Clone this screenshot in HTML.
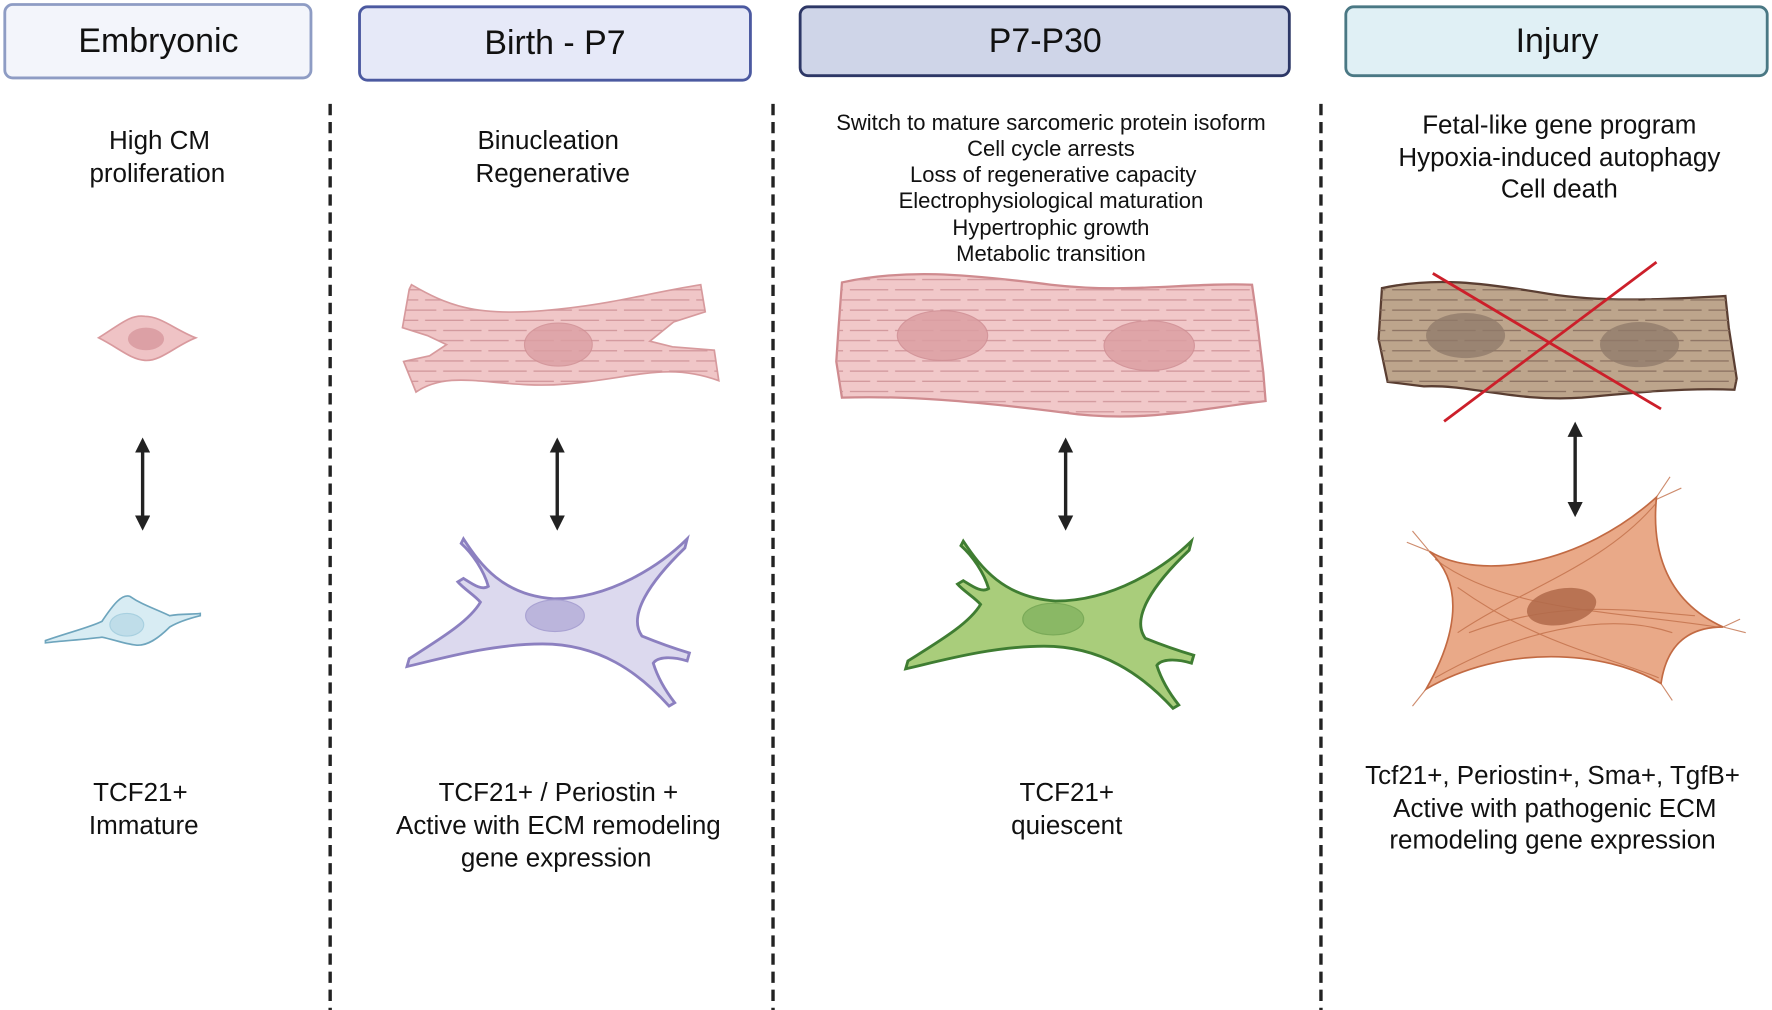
<!DOCTYPE html>
<html><head><meta charset="utf-8"><style>
html,body{margin:0;padding:0;background:#fff}
svg{display:block}
text{font-family:"Liberation Sans",sans-serif;fill:#111;text-anchor:middle}
</style></head><body>
<svg width="1772" height="1010" viewBox="0 0 1568 894" xmlns="http://www.w3.org/2000/svg">
<defs>
<path id="fib" d="M -80,-68 C -65,-45 -45,-18 0,-15 C 50,-15 95,-45 118,-68 L 116,-60 C 85,-30 65,0 78,18 C 95,25 110,30 120,33 L 118,40 C 105,36 92,36 88,42 C 92,55 100,68 107,77 L 102,80 C 75,50 40,25 -10,25 C -55,25 -100,38 -130,45 L -128,38 C -100,20 -75,5 -65,-12 C -70,-18 -80,-24 -85,-30 L -80,-33 C -72,-28 -64,-22 -58,-26 C -62,-40 -72,-55 -82,-64 Z"/>
<pattern id="stripes" width="40" height="18" patternUnits="userSpaceOnUse"><path d="M0,4.5 L40,4.5" stroke="#d0959a" stroke-width="1" stroke-dasharray="26 6"/><path d="M0,13.5 L40,13.5" stroke="#d0959a" stroke-width="1" stroke-dasharray="10 6 26 0"/></pattern>
<pattern id="stripesB" width="40" height="18" patternUnits="userSpaceOnUse"><path d="M0,4.5 L40,4.5" stroke="#8a7060" stroke-width="1" stroke-dasharray="26 6"/><path d="M0,13.5 L40,13.5" stroke="#8a7060" stroke-width="1" stroke-dasharray="10 6 26 0"/></pattern>
<marker id="ah" viewBox="0 0 10 10" refX="5" refY="5" markerWidth="4.5" markerHeight="4.5" orient="auto-start-reverse"><path d="M0,0 L10,5 L0,10 Z" fill="#222"/></marker>
</defs>

<rect x="4" y="4" width="271" height="65" rx="7" fill="#f3f5fb" stroke="#8e9cc4" stroke-width="2.5"/>
<text x="140" y="46" font-size="30">Embryonic</text>
<rect x="318" y="6" width="346" height="65" rx="7" fill="#e6e9f8" stroke="#4b59a0" stroke-width="2.5"/>
<text x="491" y="48" font-size="30">Birth - P7</text>
<rect x="708" y="6" width="433" height="61" rx="7" fill="#cfd5e8" stroke="#2d3766" stroke-width="2.5"/>
<text x="925" y="46" font-size="30">P7-P30</text>
<rect x="1191" y="6" width="373" height="61" rx="7" fill="#e0f0f5" stroke="#4a7884" stroke-width="2.5"/>
<text x="1378" y="46" font-size="30">Injury</text>

<g stroke="#222" stroke-width="3" stroke-dasharray="10 6">
<line x1="292" y1="92" x2="292" y2="894"/>
<line x1="684" y1="92" x2="684" y2="894"/>
<line x1="1169" y1="92" x2="1169" y2="894"/>
</g>

<text font-size="23"><tspan x="141" y="132">High CM</tspan><tspan x="139" y="161">proliferation</tspan></text>
<text font-size="23"><tspan x="485" y="132">Binucleation</tspan><tspan x="489" y="161">Regenerative</tspan></text>
<text font-size="19.5"><tspan x="930" y="115">Switch to mature sarcomeric protein isoform</tspan><tspan x="930" y="138">Cell cycle arrests</tspan><tspan x="932" y="161">Loss of regenerative capacity</tspan><tspan x="930" y="184">Electrophysiological maturation</tspan><tspan x="930" y="208">Hypertrophic growth</tspan><tspan x="930" y="231">Metabolic transition</tspan></text>
<text font-size="23"><tspan x="1380" y="118">Fetal-like gene program</tspan><tspan x="1380" y="147">Hypoxia-induced autophagy</tspan><tspan x="1380" y="175">Cell death</tspan></text>

<path d="M87,299 C105,288 115,278 128,280 C142,280 155,292 173,299 C155,306 142,320 128,319 C115,318 105,308 87,299 Z" fill="#efc3c5" stroke="#d99a9e" stroke-width="1.5"/>
<ellipse cx="129" cy="300" rx="16" ry="10" fill="#dca0a5"/>

<g>
<path d="M362,256 L364,252 C395,270 420,280 480,275 C540,270 570,260 620,252 L624,276 L596,285 L575,302 L595,307 L632,310 L636,337 C590,320 560,335 500,340 C440,345 400,325 368,347 L357,320 L380,315 L395,305 L378,297 L356,290 L362,256 Z" fill="#f0c6c7" stroke="#d79a9d" stroke-width="1.5"/>
<path d="M362,256 L364,252 C395,270 420,280 480,275 C540,270 570,260 620,252 L624,276 L596,285 L575,302 L595,307 L632,310 L636,337 C590,320 560,335 500,340 C440,345 400,325 368,347 L357,320 L380,315 L395,305 L378,297 L356,290 Z" fill="url(#stripes)"/>
<ellipse cx="494" cy="305" rx="30" ry="19" fill="#dc9fa3" opacity="0.8" stroke="#cf8e93"/>
</g>

<path d="M745,250 C800,238 850,242 930,252 C1000,260 1050,250 1108,252 L1112,280 L1118,330 L1120,355 C1060,362 1010,375 940,365 C860,355 800,350 745,352 L740,320 L742,290 Z" fill="#f1c8c9" stroke="#cf8b8f" stroke-width="2"/>
<path d="M745,250 C800,238 850,242 930,252 C1000,260 1050,250 1108,252 L1112,280 L1118,330 L1120,355 C1060,362 1010,375 940,365 C860,355 800,350 745,352 L740,320 L742,290 Z" fill="url(#stripes)"/>
<ellipse cx="834" cy="297" rx="40" ry="22" fill="#dc9fa3" opacity="0.85" stroke="#cf8e93"/>
<ellipse cx="1017" cy="306" rx="40" ry="22" fill="#dc9fa3" opacity="0.85" stroke="#cf8e93"/>

<path d="M1223,255 C1270,245 1310,250 1370,260 C1420,268 1470,265 1527,262 L1530,290 L1537,335 L1535,345 C1490,343 1440,348 1400,352 C1340,356 1300,340 1260,342 L1228,338 L1220,300 Z" fill="#bda58c" stroke="#5a3e32" stroke-width="2"/>
<path d="M1223,255 C1270,245 1310,250 1370,260 C1420,268 1470,265 1527,262 L1530,290 L1537,335 L1535,345 C1490,343 1440,348 1400,352 C1340,356 1300,340 1260,342 L1228,338 L1220,300 Z" fill="url(#stripesB)"/>
<ellipse cx="1297" cy="297" rx="35" ry="20" fill="#8f7a6a" opacity="0.75"/>
<ellipse cx="1451" cy="305" rx="35" ry="20" fill="#8f7a6a" opacity="0.75"/>
<line x1="1268" y1="242" x2="1470" y2="362" stroke="#cc1f2a" stroke-width="2.5"/>
<line x1="1466" y1="232" x2="1278" y2="373" stroke="#cc1f2a" stroke-width="2.5"/>

<g stroke="#222" stroke-width="3" marker-start="url(#ah)" marker-end="url(#ah)">
<line x1="126" y1="394" x2="126" y2="463"/>
<line x1="493" y1="394" x2="493" y2="463"/>
<line x1="943" y1="394" x2="943" y2="463"/>
<line x1="1394" y1="380" x2="1394" y2="451"/>
</g>

<path d="M40,567 C60,560 80,555 90,550 C100,535 108,525 115,528 C125,535 135,538 150,545 C160,543 170,544 177,543 L177,545 C165,548 155,552 150,555 C140,565 130,572 120,571 C110,570 100,566 90,564 C75,566 58,567 40,569 Z" fill="#d8ecf3" stroke="#6ea5bd" stroke-width="1.5"/>
<ellipse cx="112" cy="553" rx="15" ry="10" fill="#bfdde9" stroke="#a8d0e0"/>

<use href="#fib" transform="translate(490,545)" fill="#dcd9ee" stroke="#8c80c0" stroke-width="2.5"/>
<ellipse cx="491" cy="545" rx="26" ry="14" fill="#bbb5dc" stroke="#a9a2d2"/>

<use href="#fib" transform="translate(934,547) scale(1.02,1)" fill="#a9cd7b" stroke="#3f7d32" stroke-width="2.5"/>
<ellipse cx="932" cy="548" rx="27" ry="14" fill="#8ab865" stroke="#7aaa58"/>

<g>
<path d="M1265,488 C1310,515 1400,500 1466,440 C1462,480 1470,530 1525,555 C1495,555 1475,570 1470,605 C1420,575 1330,570 1262,610 C1285,570 1300,520 1265,488 Z" fill="#e9a988" stroke="#c26a43" stroke-width="1.5"/>
<g stroke="#c2704a" stroke-width="1" fill="none" opacity="0.8">
<path d="M1270,495 C1330,540 1420,540 1520,555"/><path d="M1290,560 C1350,520 1420,500 1466,445"/><path d="M1270,600 C1340,560 1420,540 1480,560"/><path d="M1290,520 C1360,570 1420,580 1468,600"/><path d="M1300,560 C1380,530 1440,540 1500,545"/>
<path d="M1466,440 L1478,422 M1466,442 L1488,432 M1525,555 L1545,560 M1525,555 L1540,548 M1470,605 L1480,620 M1262,610 L1250,625 M1265,488 L1245,480 M1265,488 L1250,470"/>
</g>
<ellipse cx="1382" cy="537" rx="31" ry="16" fill="#b06a4a" opacity="0.85" transform="rotate(-10 1382 537)"/>
</g>

<text font-size="23"><tspan x="124" y="709">TCF21+</tspan><tspan x="127" y="738">Immature</tspan></text>
<text font-size="23"><tspan x="494" y="709">TCF21+ / Periostin +</tspan><tspan x="494" y="738">Active with ECM remodeling</tspan><tspan x="492" y="767">gene expression</tspan></text>
<text font-size="23"><tspan x="944" y="709">TCF21+</tspan><tspan x="944" y="738">quiescent</tspan></text>
<text font-size="23"><tspan x="1374" y="694">Tcf21+, Periostin+, Sma+, TgfB+</tspan><tspan x="1376" y="723">Active with pathogenic ECM</tspan><tspan x="1374" y="751">remodeling gene expression</tspan></text>
</svg>
</body></html>
